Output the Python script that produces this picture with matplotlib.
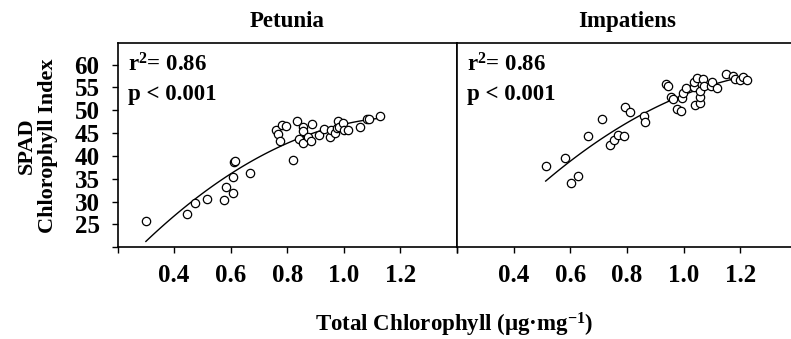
import numpy as np
import matplotlib
matplotlib.use('Agg')
import matplotlib.pyplot as plt

# Petunia: total chlorophyll (ug/mg) vs SPAD index
petunia_x = [0.30, 0.447, 0.473, 0.515, 0.576, 0.582, 0.609, 0.609, 0.612, 0.616,
             0.667, 0.761, 0.768, 0.773, 0.780, 0.794, 0.821, 0.833, 0.842, 0.854,
             0.855, 0.857, 0.874, 0.883, 0.887, 0.912, 0.928, 0.951, 0.955, 0.969,
             0.976, 0.980, 0.983, 0.998, 1.001, 1.015, 1.058, 1.083, 1.088, 1.129]
petunia_y = [25.7, 27.4, 29.7, 30.5, 30.3, 33.1, 31.9, 35.4, 38.7, 39.0,
             36.2, 45.6, 44.7, 43.3, 46.7, 46.6, 39.1, 47.7, 43.8, 46.3,
             45.4, 42.8, 44.1, 43.2, 47.1, 44.5, 45.9, 44.1, 45.6, 45.1,
             46.2, 47.6, 46.4, 47.3, 45.7, 45.7, 46.3, 48.1, 48.2, 48.8]

# Impatiens
impatiens_x = [0.513, 0.581, 0.601, 0.628, 0.664, 0.713, 0.740, 0.755, 0.767, 0.788,
               0.793, 0.812, 0.860, 0.863, 0.936, 0.944, 0.956, 0.961, 0.978, 0.991,
               0.995, 0.999, 1.009, 1.035, 1.036, 1.047, 1.041, 1.056, 1.057, 1.056,
               1.069, 1.070, 1.097, 1.101, 1.119, 1.151, 1.175, 1.180, 1.199, 1.209,
               1.222]
impatiens_y = [37.9, 39.5, 34.1, 35.6, 44.4, 48.0, 42.4, 43.5, 44.5, 44.4,
               50.7, 49.7, 48.8, 47.5, 55.7, 55.4, 53.0, 52.4, 50.3, 49.8,
               52.8, 53.7, 54.9, 55.0, 56.2, 57.0, 51.2, 51.6, 53.0, 54.3,
               56.8, 55.4, 55.4, 56.2, 54.9, 57.9, 57.4, 56.8, 56.6, 57.3,
               56.6]

panels = [('Petunia', petunia_x, petunia_y), ('Impatiens', impatiens_x, impatiens_y)]
stats = ['r$^{2}$= 0.86', 'p < 0.001']
x_ticks = [0.2, 0.4, 0.6, 0.8, 1.0, 1.2, 1.4]
x_ticklabels = ['', '0.4', '0.6', '0.8', '1.0', '1.2', '']
y_ticks = [20, 25, 30, 35, 40, 45, 50, 55, 60]
y_ticklabels = ['', '25', '30', '35', '40', '45', '50', '55', '60']

plt.rcParams['font.family'] = 'Liberation Serif'
plt.rcParams['font.weight'] = 'bold'
plt.rcParams['mathtext.fontset'] = 'custom'
plt.rcParams['mathtext.rm'] = 'Liberation Serif:bold'
plt.rcParams['mathtext.bf'] = 'Liberation Serif:bold'
plt.rcParams['mathtext.it'] = 'Liberation Serif:bold'

W, H = 791, 339
fig = plt.figure(figsize=(W / 100, H / 100), dpi=100)

left_px, mid_px, right_px = 117.6, 457.0, 797.0
top_px, bot_px = 42.7, 247.3
bottom = 1 - bot_px / H
height = (bot_px - top_px) / H

# right panel runs past the figure edge, like the cropped original
axes = [fig.add_axes([left_px / W, bottom, (mid_px - left_px) / W, height]),
        fig.add_axes([mid_px / W, bottom, (right_px - mid_px) / W, height])]

for i, (ax, (name, xs, ys)) in enumerate(zip(axes, panels)):
    ax.scatter(xs, ys, s=36, facecolors='white', edgecolors='black', linewidths=0.9, zorder=3)
    # quadratic regression line
    coef = np.polyfit(xs, ys, 2)
    xx = np.linspace(min(xs), max(xs), 100)
    ax.plot(xx, np.polyval(coef, xx), color='black', lw=1.0, zorder=2)

    ax.set_xlim(0.2, 1.4)
    ax.set_ylim(20, 64.8)
    ax.set_xticks(x_ticks)
    ax.set_xticklabels(x_ticklabels, fontsize=18, fontweight='bold')
    ax.set_title(name, fontsize=16.5, fontweight='bold', pad=11)
    ax.tick_params(axis='x', direction='out', length=4, width=1, pad=8)
    for sp in ax.spines.values():
        sp.set_linewidth(1.2)

    if i == 0:
        ax.set_yticks(y_ticks)
        ax.set_yticklabels(y_ticklabels, fontsize=18, fontweight='bold')
        ax.tick_params(axis='y', direction='out', length=4, width=1, pad=9)
    else:
        ax.set_yticks([])
    ax.text(0.03, 0.89, stats[0], transform=ax.transAxes, fontsize=16.5,
            fontweight='bold', va='center')
    ax.text(0.03, 0.745, stats[1], transform=ax.transAxes, fontsize=16.5,
            fontweight='bold', va='center')

fig.text(27 / W, 1 - 146 / H, 'SPAD', rotation=90, fontsize=16, fontweight='bold',
         ha='center', va='center')
fig.text(48 / W, 1 - 146 / H, 'Chlorophyll Index', rotation=90, fontsize=16,
         fontweight='bold', ha='center', va='center')
fig.text(454 / W, 1 - 325 / H, 'Total Chlorophyll (μg·mg$^{-1}$)', fontsize=16.5,
         fontweight='bold', ha='center', va='center')

fig.savefig('out.png', dpi=100)
